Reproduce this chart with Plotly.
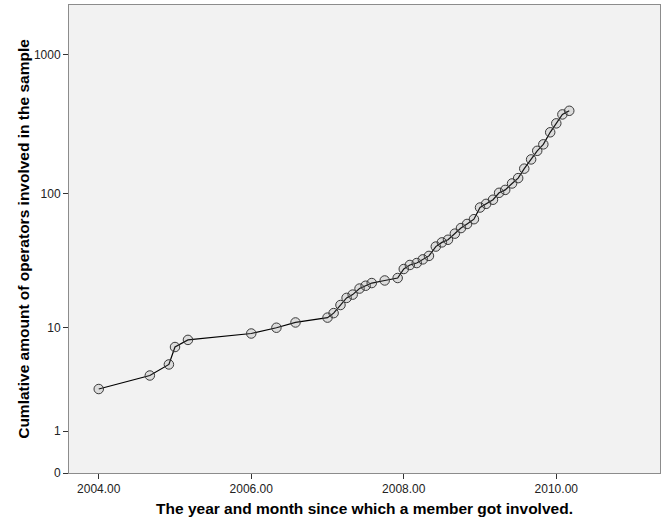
import numpy as np
import plotly.graph_objects as go

# Year-and-month (decimal) at which members got involved
months = [2004.00, 2004.67, 2004.92, 2005.00, 2005.17, 2006.00, 2006.33, 2006.58,
          2007.00, 2007.08, 2007.17, 2007.25, 2007.33, 2007.42, 2007.50, 2007.58,
          2007.75, 2007.92, 2008.00, 2008.08, 2008.17, 2008.25, 2008.33, 2008.42,
          2008.50, 2008.58, 2008.67, 2008.75, 2008.83, 2008.92, 2009.00, 2009.08,
          2009.17, 2009.25, 2009.33, 2009.42, 2009.50, 2009.58, 2009.67, 2009.75,
          2009.83, 2009.92, 2010.00, 2010.08, 2010.17]
# Cumulative number of operators
cumulative = [3, 4, 5, 7, 8, 9, 10, 11, 12, 13, 15, 17, 18, 20, 21, 22, 23, 24,
              28, 30, 31, 33, 35, 41, 44, 46, 51, 56, 60, 65, 79, 84, 90, 101, 106,
              118, 129, 151, 176, 203, 226, 276, 320, 371, 394]

x_ticks = [2004, 2006, 2008, 2010]
x_tick_text = ["2004.00", "2006.00", "2008.00", "2010.00"]
y_ticks = [0, 1, 10, 100, 1000]
y_tick_text = ["0", "1", "10", "100", "1000"]


def safe_log(v):
    v = np.asarray(v, dtype=float)
    return np.sign(v) * np.log10(1 + np.abs(v))


fig = go.Figure()
fig.add_trace(go.Scatter(
    x=months,
    y=safe_log(cumulative),
    customdata=cumulative,
    mode="lines+markers",
    line=dict(color="#000000", width=1.2),
    marker=dict(symbol="circle", size=9.5, color="rgba(120,120,120,0.18)",
                line=dict(color="#3a3a3a", width=1)),
    hovertemplate="%{x:.2f}: %{customdata}<extra></extra>",
    showlegend=False,
))

font_family = "Liberation Sans, Arial, sans-serif"

fig.update_layout(
    width=667, height=523,
    margin=dict(l=69, r=7, t=5, b=50),
    paper_bgcolor="#FFFFFF",
    plot_bgcolor="#F2F2F2",
    font=dict(family=font_family, size=12, color="#222222"),
    xaxis=dict(
        range=[2003.61, 2011.36],
        tickvals=x_ticks, ticktext=x_tick_text,
        ticks="outside", ticklen=5, tickcolor="#333333", tickwidth=1,
        showgrid=False, zeroline=False,
        showline=True, linecolor="#8c8c8c", linewidth=1, mirror=True,
        tickfont=dict(size=12, color="#222222"),
        title=dict(text="<b>The year and month since which a member got involved.</b>",
                   font=dict(size=15.5, color="#000000"), standoff=7),
    ),
    yaxis=dict(
        range=[0, 3.355],
        tickvals=list(safe_log(y_ticks)), ticktext=y_tick_text,
        ticks="outside", ticklen=5, tickcolor="#333333", tickwidth=1,
        showgrid=False, zeroline=False,
        showline=True, linecolor="#8c8c8c", linewidth=1, mirror=True,
        tickfont=dict(size=12, color="#222222"),
        title=dict(text="<b>Cumlative amount of operators involved in the sample</b>",
                   font=dict(size=15.5, color="#000000"), standoff=0),
    ),
)

fig.write_html("out.html", config={"displayModeBar": False},
               post_script="document.body.style.margin='0px';")
